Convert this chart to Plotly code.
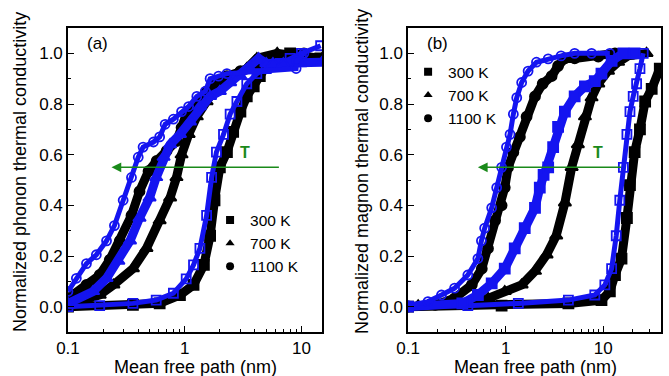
import math
import plotly.graph_objects as go

# ---------------- Panel (a): phonon ----------------
a_1100_blue_x = [0.1, 0.118, 0.144, 0.175, 0.214, 0.25, 0.297, 0.35, 0.40, 0.44, 0.54, 0.61, 0.68, 0.80, 0.94, 1.08, 1.27, 1.5, 1.65, 1.95, 2.3, 9.0, 9.1, 10.5]
a_1100_blue_y = [0.06, 0.112, 0.17, 0.205, 0.26, 0.32, 0.42, 0.51, 0.59, 0.63, 0.65, 0.67, 0.72, 0.74, 0.77, 0.79, 0.83, 0.85, 0.90, 0.91, 0.92, 0.94, 0.97, 1.0]
a_1100_black_x = [0.1, 0.144, 0.187, 0.228, 0.278, 0.35, 0.41, 0.49, 0.575, 0.70, 0.85, 0.94, 1.03, 1.27, 1.54, 1.87, 2.3, 3.0, 5.0, 8.0, 10.5]
a_1100_black_y = [0.033, 0.086, 0.125, 0.185, 0.26, 0.36, 0.455, 0.535, 0.575, 0.615, 0.654, 0.707, 0.76, 0.80, 0.85, 0.89, 0.91, 0.93, 0.96, 0.99, 1.0]
a_700_blue_x = [0.1, 0.164, 0.214, 0.27, 0.34, 0.41, 0.50, 0.57, 0.66, 0.75, 0.91, 1.11, 1.35, 1.65, 2.0, 2.45, 3.0, 3.6, 4.3, 5.0, 5.7, 7.0, 9.8, 15.0]
a_700_blue_y = [0.013, 0.06, 0.112, 0.18, 0.26, 0.35, 0.43, 0.51, 0.59, 0.64, 0.68, 0.73, 0.79, 0.83, 0.85, 0.885, 0.91, 0.94, 0.98, 0.96, 0.96, 0.96, 0.96, 0.965]
a_700_black_x = [0.1, 0.187, 0.245, 0.36, 0.47, 0.61, 0.75, 0.85, 0.94, 1.08, 1.27, 1.54, 1.87, 2.3, 2.8, 3.4, 4.15, 6.2, 9.0, 15.0]
a_700_black_y = [0.007, 0.046, 0.086, 0.15, 0.23, 0.34, 0.43, 0.51, 0.60, 0.68, 0.75, 0.81, 0.87, 0.90, 0.92, 0.94, 0.98, 1.0, 0.99, 0.98]
a_300_blue_x = [0.1, 0.187, 0.36, 0.57, 0.8, 1.03, 1.19, 1.35, 1.54, 1.70, 1.87, 2.15, 2.45, 2.8, 3.4, 4.15, 5.0, 6.6, 8.0, 10.0, 14.6]
a_300_blue_y = [0.0, 0.004, 0.013, 0.026, 0.053, 0.11, 0.165, 0.23, 0.36, 0.51, 0.61, 0.68, 0.76, 0.81, 0.88, 0.92, 0.94, 0.96, 0.98, 1.0, 1.03]
a_300_black_x = [0.1, 0.36, 0.61, 0.91, 1.19, 1.46, 1.65, 1.8, 2.0, 2.3, 2.6, 3.0, 3.4, 3.9, 4.4, 5.0, 6.2, 8.0, 10.3, 14.5]
a_300_black_y = [0.0, 0.007, 0.013, 0.046, 0.086, 0.165, 0.28, 0.42, 0.55, 0.61, 0.69, 0.77, 0.83, 0.87, 0.91, 0.95, 0.98, 1.0, 0.99, 0.98]

# ---------------- Panel (b): magnon ----------------
b_1100_blue_x = [0.1, 0.16, 0.22, 0.30, 0.41, 0.52, 0.565, 0.61, 0.72, 0.81, 0.91, 1.02, 1.11, 1.2, 1.3, 1.46, 1.7, 2.07, 2.73, 3.7, 5.1, 7.6, 11.7]
b_1100_blue_y = [0.004, 0.02, 0.046, 0.073, 0.125, 0.19, 0.26, 0.31, 0.39, 0.47, 0.55, 0.63, 0.68, 0.76, 0.825, 0.885, 0.93, 0.965, 0.978, 0.99, 1.0, 1.0, 1.0]
b_1100_black_x = [0.1, 0.19, 0.30, 0.45, 0.57, 0.66, 0.78, 0.91, 0.98, 1.06, 1.2, 1.4, 1.64, 2.0, 2.4, 2.96, 3.45, 4.05, 5.1, 8.9, 13.2]
b_1100_black_y = [0.0, 0.007, 0.033, 0.086, 0.15, 0.23, 0.34, 0.40, 0.47, 0.55, 0.61, 0.67, 0.75, 0.83, 0.88, 0.91, 0.95, 0.98, 0.98, 0.987, 1.0]
b_700_blue_x = [0.1, 0.36, 0.52, 0.72, 0.98, 1.24, 1.57, 2.0, 2.24, 2.45, 2.73, 3.07, 3.45, 4.05, 5.1, 6.5, 8.2, 9.6, 12.2, 16.1, 21.0]
b_700_blue_y = [0.0, 0.013, 0.046, 0.092, 0.15, 0.23, 0.31, 0.39, 0.47, 0.52, 0.55, 0.63, 0.71, 0.77, 0.83, 0.87, 0.89, 0.92, 0.97, 1.0, 1.0]
b_700_black_x = [0.127, 0.41, 0.66, 0.98, 1.46, 2.0, 2.63, 3.3, 4.05, 4.75, 5.5, 6.5, 7.6, 8.9, 11.2, 14.2, 18.0, 27.8]
b_700_black_y = [0.004, 0.013, 0.033, 0.06, 0.086, 0.14, 0.205, 0.28, 0.41, 0.55, 0.64, 0.75, 0.825, 0.88, 0.93, 0.965, 0.99, 1.0]
b_300_blue_x = [0.1, 0.41, 1.35, 4.4, 8.2, 10.4, 12.2, 13.6, 14.8, 16.1, 17.5, 18.8, 20.3, 22.0, 23.8, 25.7]
b_300_blue_y = [0.0, 0.004, 0.013, 0.026, 0.046, 0.086, 0.15, 0.28, 0.42, 0.55, 0.68, 0.77, 0.83, 0.88, 0.94, 1.0]
b_300_black_x = [0.1, 0.91, 4.4, 9.6, 11.7, 13.2, 15.4, 17.5, 18.8, 21.0, 23.8, 26.9, 31.4, 38.0]
b_300_black_y = [0.0, 0.004, 0.013, 0.026, 0.06, 0.125, 0.19, 0.35, 0.48, 0.61, 0.70, 0.81, 0.86, 0.94]

legend_labels = ["300 K", "700 K", "1100 K"]
legend_symbols = ["square", "triangle-up", "circle"]

# arrow ends (mean free path, nm) and level
arrow_a = (0.236, 6.6)
arrow_b = (0.52, 15.8)
arrow_level = 0.55
t_label_a = 3.3
t_label_b = 8.8

BLUE = "#1414f0"
BLACK = "#000000"
GREEN = "#1a8a1a"
FONT = "Liberation Sans, Arial, sans-serif"

fig = go.Figure()


def add_curve(x, y, color, symbol, axis, lw, size):
    xa, ya = axis
    fig.add_trace(go.Scatter(
        x=x, y=y, mode="lines+markers", xaxis=xa, yaxis=ya,
        line=dict(color=color, width=lw, shape="linear"),
        marker=dict(color=color, symbol=symbol, size=size,
                    line=dict(color=color, width=1.8)),
        showlegend=False, hoverinfo="skip"))


A = ("x", "y")
B = ("x2", "y2")
# panel a
add_curve(a_300_black_x, a_300_black_y, BLACK, "square", A, 9, 10)
add_curve(a_700_black_x, a_700_black_y, BLACK, "triangle-up", A, 9, 11)
add_curve(a_1100_black_x, a_1100_black_y, BLACK, "circle", A, 9, 10)
add_curve(a_300_blue_x, a_300_blue_y, BLUE, "square-open", A, 5, 9)
add_curve(a_700_blue_x, a_700_blue_y, BLUE, "triangle-up", A, 9, 11)
add_curve(a_1100_blue_x, a_1100_blue_y, BLUE, "circle-open", A, 5, 9)
# panel b
add_curve(b_300_black_x, b_300_black_y, BLACK, "square", B, 9, 10)
add_curve(b_700_black_x, b_700_black_y, BLACK, "triangle-up", B, 9, 11)
add_curve(b_1100_black_x, b_1100_black_y, BLACK, "circle", B, 9, 10)
add_curve(b_300_blue_x, b_300_blue_y, BLUE, "square-open", B, 5, 9)
add_curve(b_700_blue_x, b_700_blue_y, BLUE, "square", B, 9, 10)
add_curve(b_1100_blue_x, b_1100_blue_y, BLUE, "circle-open", B, 5, 9)

# legend entries (marker only)
for leg, axis in (("legend", A), ("legend2", B)):
    for lab, sym in zip(legend_labels, legend_symbols):
        fig.add_trace(go.Scatter(
            x=[None], y=[None], mode="markers", name=lab, legend=leg,
            xaxis=axis[0], yaxis=axis[1],
            marker=dict(color=BLACK, symbol=sym, size=8)))

minor_x = [0.2, 0.3, 0.4, 0.5, 0.6, 0.7, 0.8, 0.9, 2, 3, 4, 5, 6, 7, 8, 9, 20, 30]
xcommon = dict(type="log", tickvals=[0.1, 1, 10], ticktext=["0.1", "1", "10"],
               ticks="inside", ticklen=6, tickwidth=1.3, tickcolor="black",
               showline=True, linecolor="black", linewidth=1.5, mirror=True,
               showgrid=False, zeroline=False, automargin=False,
               tickfont=dict(family=FONT, size=17, color="black"),
               minor=dict(tickvals=minor_x, ticks="inside", ticklen=3,
                          tickwidth=1, tickcolor="black", showgrid=False))
ycommon = dict(range=[-0.1, 1.1], tickvals=[0, 0.2, 0.4, 0.6, 0.8, 1.0],
               ticktext=["0.0", "0.2", "0.4", "0.6", "0.8", "1.0"],
               ticks="inside", ticklen=6, tickwidth=1.3, tickcolor="black",
               showline=True, linecolor="black", linewidth=1.5, mirror=True,
               showgrid=False, zeroline=False, automargin=False,
               tickfont=dict(family=FONT, size=17, color="black"),
               minor=dict(tickvals=[-0.1, 0.1, 0.3, 0.5, 0.7, 0.9], ticks="inside",
                          ticklen=3, tickwidth=1, tickcolor="black", showgrid=False))

fig.update_layout(
    width=669, height=376,
    margin=dict(l=0, r=0, t=0, b=0, autoexpand=False),
    paper_bgcolor="white", plot_bgcolor="white",
    font=dict(family=FONT, size=17, color="black"),
    xaxis=dict(domain=[0.1016, 0.4813], range=[-1, 1.176], **xcommon),
    yaxis=dict(domain=[0.117, 0.9255], anchor="x", **ycommon),
    xaxis2=dict(domain=[0.6099, 0.988], range=[-1, 1.592], anchor="y2", **xcommon),
    yaxis2=dict(domain=[0.117, 0.9255], anchor="x2", **ycommon),
    legend=dict(x=0.314, y=0.459, xanchor="left", yanchor="top",
                bgcolor="rgba(0,0,0,0)", font=dict(family=FONT, size=15.5),
                tracegroupgap=0, itemwidth=30),
    legend2=dict(x=0.610, y=0.853, xanchor="left", yanchor="top",
                 bgcolor="rgba(0,0,0,0)", font=dict(family=FONT, size=15.5),
                 tracegroupgap=0, itemwidth=30),
)

# arrows and labels (log axes: annotation positions in log10 units)
for (head, tail), xr, tx in ((arrow_a, "x", t_label_a), (arrow_b, "x2", t_label_b)):
    yr = "y" if xr == "x" else "y2"
    fig.add_annotation(x=math.log10(head), y=arrow_level,
                       ax=math.log10(tail), ay=arrow_level,
                       xref=xr, yref=yr, axref=xr, ayref=yr, showarrow=True,
                       arrowhead=2, arrowsize=1.3, arrowwidth=1.5,
                       arrowcolor=GREEN, text="")
    fig.add_annotation(x=math.log10(tx), y=arrow_level + 0.06, xref=xr, yref=yr,
                       text="<b>T</b>", showarrow=False,
                       font=dict(family=FONT, size=16, color=GREEN))

# panel labels
fig.add_annotation(x=85 / 669, y=1 - 43 / 376, xref="paper", yref="paper",
                   xanchor="left", yanchor="middle", text="(a)", showarrow=False,
                   font=dict(size=17))
fig.add_annotation(x=425 / 669, y=1 - 43 / 376, xref="paper", yref="paper",
                   xanchor="left", yanchor="middle", text="(b)", showarrow=False,
                   font=dict(size=17))

# axis titles
for xpx, txt in ((20, "Normalized phonon thermal conductivity"),
                 (362, "Normalized magnon thermal conductivity")):
    fig.add_annotation(x=xpx / 669, y=1 - 172 / 376, xref="paper", yref="paper",
                       xanchor="center", yanchor="middle",
                       text=txt, textangle=-90, showarrow=False, font=dict(size=18))
for xpx in (195, 535):
    fig.add_annotation(x=xpx / 669, y=1 - 367 / 376, xref="paper", yref="paper",
                       xanchor="center", yanchor="middle",
                       text="Mean free path (nm)", showarrow=False, font=dict(size=18))

fig.write_html("out.html")
